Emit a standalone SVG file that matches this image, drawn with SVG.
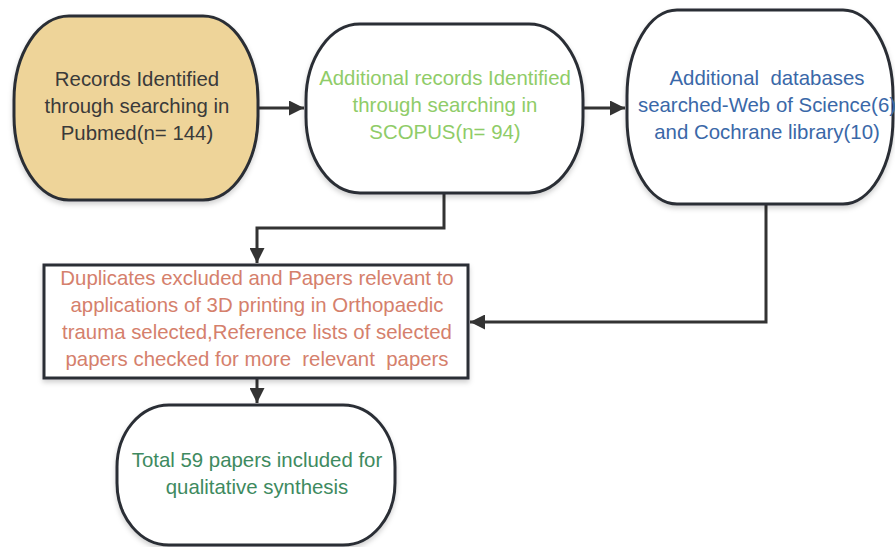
<svg xmlns="http://www.w3.org/2000/svg" width="895" height="547" viewBox="0 0 895 547">
<defs>
<filter id="sh" x="-10%" y="-10%" width="120%" height="125%">
<feDropShadow dx="0" dy="3" stdDeviation="2.5" flood-color="#000" flood-opacity="0.18"/>
</filter>
<marker id="ah" viewBox="0 0 10 10" refX="10" refY="5" markerWidth="5" markerHeight="5" orient="auto" markerUnits="strokeWidth">
<path d="M0,0 L10,5 L0,10 Z" fill="#333"/>
</marker>
<style>
.n{stroke:#2b2f36;stroke-width:3;filter:url(#sh)}
.t{font-family:"Liberation Sans",Arial,sans-serif;font-size:20.4px;text-anchor:middle}
.c{fill:none;stroke:#333;stroke-width:3;marker-end:url(#ah)}
</style>
</defs>
<rect width="895" height="547" fill="#fff"/>
<g id="connectors">
<path class="c" d="M258,108 H304"/>
<path class="c" d="M583,108 H625"/>
<path class="c" d="M444,193 V228 H257 V263"/>
<path class="c" d="M766,204 V322 H470"/>
<path class="c" d="M257,378 V403"/>
</g>
<g id="pubmed">
<path class="n" fill="#eed499" d="M69,16 H203 A55 84 0 0 1 258,100 V116 A55 84 0 0 1 203,200 H69 A55 84 0 0 1 14,116 V100 A55 84 0 0 1 69,16 Z"/>
<text class="t" fill="#3a3a3a" x="137" y="86">Records Identified</text>
<text class="t" fill="#3a3a3a" x="137" y="113">through searching in</text>
<text class="t" fill="#3a3a3a" x="137" y="140">Pubmed(n= 144)</text>
</g>
<g id="scopus">
<path class="n" fill="#fff" d="M360,24 H529 A54 76 0 0 1 583,100 V117 A54 76 0 0 1 529,193 H360 A54 76 0 0 1 306,117 V100 A54 76 0 0 1 360,24 Z"/>
<text class="t" fill="#8fcc68" x="445" y="85">Additional records Identified</text>
<text class="t" fill="#8fcc68" x="445" y="112">through searching in</text>
<text class="t" fill="#8fcc68" x="445" y="139">SCOPUS(n= 94)</text>
</g>
<g id="other-db">
<path class="n" fill="#fff" d="M677,10 H843 A50 86 0 0 1 893,96 V118 A50 86 0 0 1 843,204 H677 A50 86 0 0 1 627,118 V96 A50 86 0 0 1 677,10 Z"/>
<text class="t" fill="#3a68a8" x="767" y="85" xml:space="preserve">Additional  databases</text>
<text class="t" fill="#3a68a8" x="767" y="112">searched-Web of Science(6)</text>
<text class="t" fill="#3a68a8" x="767" y="139">and Cochrane library(10)</text>
</g>
<g id="screening">
<rect class="n" fill="#fff" x="44" y="265" width="424" height="113"/>
<text class="t" fill="#d5806c" x="257" y="285">Duplicates excluded and Papers relevant to</text>
<text class="t" fill="#d5806c" x="257" y="312">applications of 3D printing in Orthopaedic</text>
<text class="t" fill="#d5806c" x="257" y="339">trauma selected,Reference lists of selected</text>
<text class="t" fill="#d5806c" x="257" y="366" xml:space="preserve">papers checked for more  relevant  papers</text>
</g>
<g id="included">
<path class="n" fill="#fff" d="M169,405 H343 A52 62 0 0 1 395,467 V483 A52 62 0 0 1 343,545 H169 A52 62 0 0 1 117,483 V467 A52 62 0 0 1 169,405 Z"/>
<text class="t" fill="#3e8a60" x="257" y="467">Total 59 papers included for</text>
<text class="t" fill="#3e8a60" x="257" y="494">qualitative synthesis</text>
</g>
</svg>
